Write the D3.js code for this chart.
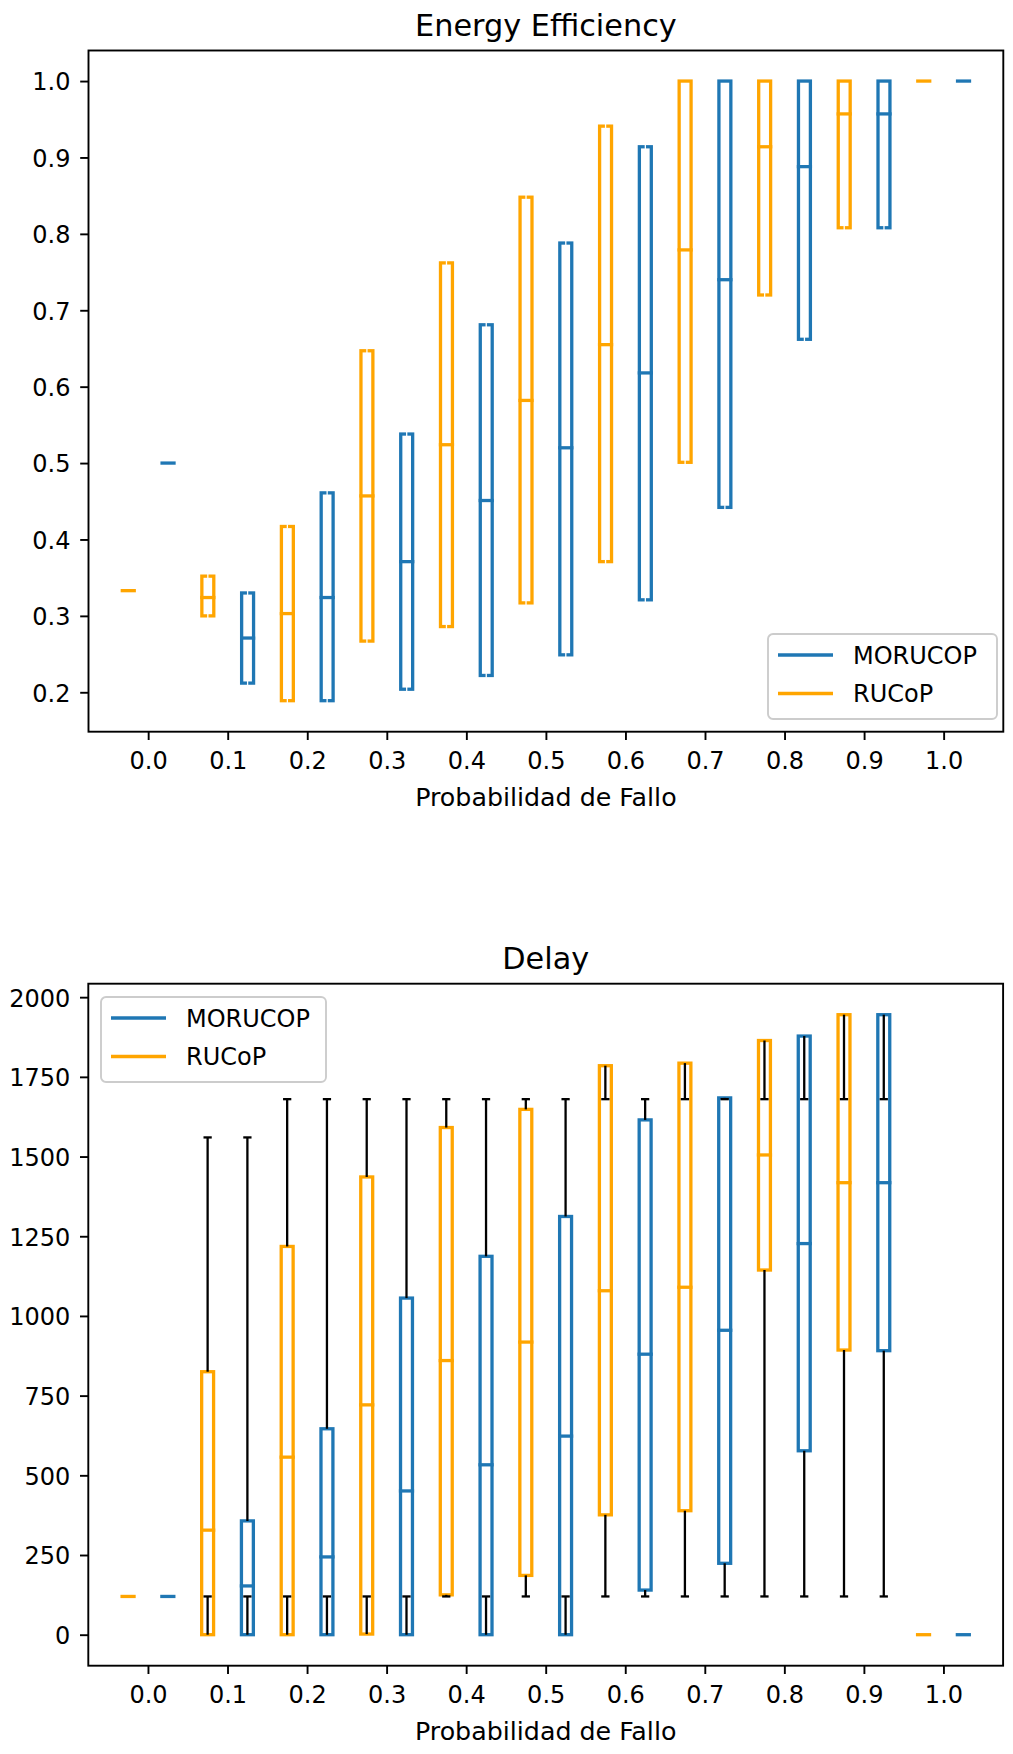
<!DOCTYPE html>
<html>
<head>
<meta charset="utf-8">
<script src="https://cdn.jsdelivr.net/npm/d3@7"></script>
<style>
  html, body { margin: 0; padding: 0; background: #fff; }
  svg { display: block; }
  text { font-family: "DejaVu Sans", sans-serif; fill: #000; }
</style>
</head>
<body>
<svg id="chart" width="1013" height="1754"></svg>
<script>
// Failure probabilities on the x axis and their tick labels
const probabilities = [0.0, 0.1, 0.2, 0.3, 0.4, 0.5, 0.6, 0.7, 0.8, 0.9, 1.0];
const probabilityLabels = ["0.0", "0.1", "0.2", "0.3", "0.4", "0.5", "0.6", "0.7", "0.8", "0.9", "1.0"];
const seriesNames = ["MORUCOP", "RUCoP"];

// Energy efficiency quartiles
const energyRucopQ1  = [0.333, 0.300, 0.189, 0.267, 0.286, 0.317, 0.371, 0.501, 0.720, 0.808, 1.0];
const energyRucopMed = [0.333, 0.324, 0.303, 0.457, 0.524, 0.582, 0.655, 0.779, 0.914, 0.957, 1.0];
const energyRucopQ3  = [0.333, 0.352, 0.417, 0.647, 0.762, 0.848, 0.941, 1.0, 1.0, 1.0, 1.0];
const energyMorucopQ1  = [0.5, 0.212, 0.189, 0.204, 0.222, 0.249, 0.321, 0.442, 0.662, 0.808, 1.0];
const energyMorucopMed = [0.5, 0.271, 0.324, 0.371, 0.451, 0.520, 0.618, 0.740, 0.888, 0.957, 1.0];
const energyMorucopQ3  = [0.5, 0.330, 0.461, 0.538, 0.681, 0.788, 0.914, 1.0, 1.0, 1.0, 1.0];
const energyTicks = [0.2, 0.3, 0.4, 0.5, 0.6, 0.7, 0.8, 0.9, 1.0];

// Delay quartiles and whisker ends
const delayRucopQ1    = [120, 0, 0, 2, 125, 186, 376, 389, 1144, 893, 0];
const delayRucopMed   = [120, 328, 557, 721, 860, 918, 1079, 1090, 1505, 1418, 0];
const delayRucopQ3    = [120, 825, 1218, 1436, 1591, 1648, 1785, 1793, 1864, 1945, 0];
const delayRucopLo    = [120, 120, 120, 120, 120, 120, 120, 120, 120, 120, 0];
const delayRucopHi    = [120, 1560, 1680, 1680, 1680, 1680, 1680, 1680, 1680, 1680, 0];
const delayMorucopQ1  = [120, 0, 0, 0, 0, 0, 140, 224, 577, 891, 0];
const delayMorucopMed = [120, 153, 244, 451, 533, 623, 880, 955, 1227, 1418, 0];
const delayMorucopQ3  = [120, 357, 646, 1056, 1187, 1312, 1615, 1684, 1878, 1945, 0];
const delayMorucopLo  = [120, 120, 120, 120, 120, 120, 120, 120, 120, 120, 0];
const delayMorucopHi  = [120, 1560, 1680, 1680, 1680, 1680, 1680, 1680, 1680, 1680, 0];
const delayTicks = [0, 250, 500, 750, 1000, 1250, 1500, 1750, 2000];

const BLUE = "#1f77b4", ORANGE = "#ffa500";
const BOX_W = 0.015, OFFSET = 0.025;
const LW = 3.3, AXW = 1.9, TICK = 8.3;
const FONT = 24, LABEL_FONT = 25.3, TITLE_FONT = 30.3;

const svg = d3.select("#chart");

function buildStats(q1, med, q3, lo, hi, offset) {
  return probabilities.map((p, i) => ({
    pos: p + offset, q1: q1[i], med: med[i], q3: q3[i],
    lo: lo ? lo[i] : null, hi: hi ? hi[i] : null
  }));
}

function drawPanel(cfg) {
  const { left, right, top, bottom } = cfg.box;
  const x = d3.scaleLinear().domain([-0.075, 1.075]).range([left, right]);
  const y = d3.scaleLinear().domain(cfg.yDomain).range([bottom, top]);
  const g = svg.append("g");

  // axes
  const xAxis = d3.axisBottom(x).tickValues(probabilities)
    .tickFormat((d, i) => probabilityLabels[i]).tickSize(TICK).tickSizeOuter(0).tickPadding(12.3);
  const gx = g.append("g").attr("transform", `translate(0,${bottom})`).call(xAxis);
  const yAxis = d3.axisLeft(y).tickValues(cfg.yTicks)
    .tickFormat(cfg.yFormat).tickSize(TICK).tickSizeOuter(0).tickPadding(9.7);
  const gy = g.append("g").attr("transform", `translate(${left},0)`).call(yAxis);
  [gx, gy].forEach(a => {
    a.select(".domain").remove();
    a.selectAll(".tick line").attr("stroke", "#000").attr("stroke-width", AXW);
    a.selectAll(".tick text").attr("font-size", FONT).attr("fill", "#000")
      .style("font-family", "DejaVu Sans");
  });
  gy.selectAll(".tick text").attr("dy", "0.37em");

  const half = (x(BOX_W) - x(0)) / 2;
  const capHalf = half / 2;

  cfg.series.forEach(s => {
    const sg = g.append("g");
    // boxes
    sg.selectAll("rect.box").data(s.stats.filter(d => d.q3 > d.q1)).join("rect")
      .attr("class", "box")
      .attr("x", d => x(d.pos) - half).attr("width", 2 * half)
      .attr("y", d => y(d.q3)).attr("height", d => y(d.q1) - y(d.q3))
      .attr("fill", "none").attr("stroke", s.color).attr("stroke-width", LW);

    if (cfg.whiskers) {
      // whiskers from the box edges to the whisker ends, with caps
      const segs = [];
      s.stats.forEach(d => {
        if (d.lo !== d.q1) segs.push({ pos: d.pos, a: d.q1, b: d.lo });
        if (d.hi !== d.q3) segs.push({ pos: d.pos, a: d.q3, b: d.hi });
      });
      sg.selectAll("line.whisker").data(segs).join("line")
        .attr("class", "whisker")
        .attr("x1", d => x(d.pos)).attr("x2", d => x(d.pos))
        .attr("y1", d => y(d.a)).attr("y2", d => y(d.b))
        .attr("stroke", "#000").attr("stroke-width", 2.3);
      sg.selectAll("line.cap").data(segs).join("line")
        .attr("class", "cap")
        .attr("x1", d => x(d.pos) - capHalf).attr("x2", d => x(d.pos) + capHalf)
        .attr("y1", d => y(d.b)).attr("y2", d => y(d.b))
        .attr("stroke", "#000").attr("stroke-width", 2.3).attr("stroke-linecap", "square");
    } else {
      // thin light whisker stubs crossing the box edges
      const stubs = [];
      s.stats.filter(d => d.q3 > d.q1).forEach(d => {
        stubs.push({ pos: d.pos, v: d.q1 });
        if (d.q3 < 1.0) stubs.push({ pos: d.pos, v: d.q3 });
      });
      sg.selectAll("line.stub").data(stubs).join("line")
        .attr("x1", d => x(d.pos)).attr("x2", d => x(d.pos))
        .attr("y1", d => y(d.v) - 2.2).attr("y2", d => y(d.v) + 2.2)
        .attr("stroke", "#fff").attr("stroke-width", 1.3);
    }

    // medians
    sg.selectAll("line.median").data(s.stats).join("line")
      .attr("class", "median")
      .attr("x1", d => x(d.pos) - half).attr("x2", d => x(d.pos) + half)
      .attr("y1", d => y(d.med)).attr("y2", d => y(d.med))
      .attr("stroke", s.color).attr("stroke-width", LW).attr("stroke-linecap", "square");
  });

  // frame
  g.append("rect").attr("x", left).attr("y", top)
    .attr("width", right - left).attr("height", bottom - top)
    .attr("fill", "none").attr("stroke", "#000").attr("stroke-width", AXW);

  // title and x label
  g.append("text").attr("x", (left + right) / 2).attr("y", top - 15)
    .attr("text-anchor", "middle").attr("font-size", TITLE_FONT).text(cfg.title);
  g.append("text").attr("x", (left + right) / 2).attr("y", bottom + 74.1)
    .attr("text-anchor", "middle").attr("font-size", LABEL_FONT).text("Probabilidad de Fallo");

  // legend
  const L = cfg.legend;
  const lg = g.append("g").attr("transform", `translate(${L.x},${L.y})`);
  lg.append("rect").attr("x", 0).attr("y", 0).attr("width", L.w).attr("height", L.h)
    .attr("rx", 5).attr("ry", 5)
    .attr("fill", "#fff").attr("fill-opacity", 0.8)
    .attr("stroke", "#cccccc").attr("stroke-width", 1.9);
  const entries = [{ name: seriesNames[0], color: BLUE }, { name: seriesNames[1], color: ORANGE }];
  entries.forEach((e, i) => {
    const cy = 21 + i * 38.5;
    lg.append("line").attr("x1", 10).attr("x2", 65).attr("y1", cy).attr("y2", cy)
      .attr("stroke", e.color).attr("stroke-width", LW);
    lg.append("text").attr("x", 85).attr("y", cy + 8.7)
      .attr("font-size", FONT).text(e.name);
  });
}

drawPanel({
  title: "Energy Efficiency",
  box: { left: 88.5, right: 1003.3, top: 50.5, bottom: 731.7 },
  yDomain: [0.1484, 1.04],
  yTicks: energyTicks,
  yFormat: d3.format(".1f"),
  whiskers: false,
  series: [
    { color: BLUE, stats: buildStats(energyMorucopQ1, energyMorucopMed, energyMorucopQ3, null, null, OFFSET) },
    { color: ORANGE, stats: buildStats(energyRucopQ1, energyRucopMed, energyRucopQ3, null, null, -OFFSET) }
  ],
  legend: { x: 768, y: 634, w: 229, h: 85 }
});

drawPanel({
  title: "Delay",
  box: { left: 88.3, right: 1003.1, top: 983.7, bottom: 1665.7 },
  yDomain: [-97.25, 2042.25],
  yTicks: delayTicks,
  yFormat: d3.format("d"),
  whiskers: true,
  series: [
    { color: BLUE, stats: buildStats(delayMorucopQ1, delayMorucopMed, delayMorucopQ3, delayMorucopLo, delayMorucopHi, OFFSET) },
    { color: ORANGE, stats: buildStats(delayRucopQ1, delayRucopMed, delayRucopQ3, delayRucopLo, delayRucopHi, -OFFSET) }
  ],
  legend: { x: 101, y: 997, w: 225, h: 85 }
});
</script>
</body>
</html>
